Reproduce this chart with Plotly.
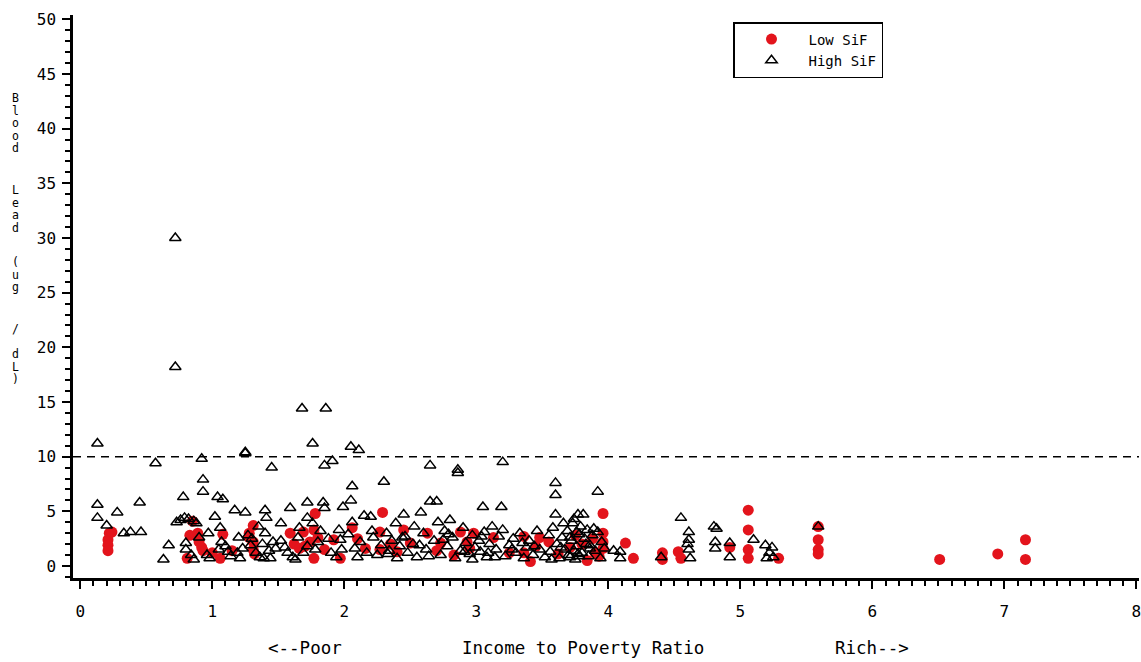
import plotly.graph_objects as go

# ---- Data ----
low_x = [0.22, 0.21, 0.21, 0.21, 0.24,
         0.81, 0.83, 0.85, 0.89, 0.92, 0.93, 0.90,
         1.06, 1.08, 1.15, 1.28, 1.31, 1.31, 1.31, 1.32, 1.28, 1.00,
         1.59, 1.62, 1.66, 1.69, 1.70, 1.74, 1.77, 1.78, 1.77, 1.80, 1.85, 1.92, 1.97,
         2.06, 2.10, 2.16, 2.27, 2.27, 2.29, 2.35, 2.45, 2.50, 2.40,
         2.63, 2.73, 2.70, 2.83, 2.88, 2.93, 2.98, 2.95,
         3.13, 3.25, 3.36, 3.36, 3.41, 3.48, 3.45,
         3.55, 3.62, 3.71, 3.75, 3.80, 3.84, 3.88, 3.90, 3.96, 3.96, 3.96, 3.96, 3.93,
         4.13, 4.19, 4.41, 4.41, 4.53, 4.55, 4.92, 5.06, 5.06, 5.06, 5.06, 5.29,
         5.59, 5.59, 5.59, 5.59,
         6.51, 6.95, 7.16, 7.16]
low_y = [3.0, 2.4, 1.9, 1.4, 3.1,
         0.7, 2.8, 4.1, 3.0, 1.7, 1.4, 2.2,
         0.7, 2.9, 1.4, 3.0, 3.7, 2.2, 1.5, 1.1, 2.6, 1.2,
         3.0, 2.0, 1.6, 3.1, 1.8, 2.2, 3.3, 4.8, 0.7, 2.6, 1.5, 2.4, 0.7,
         3.5, 2.5, 1.6, 3.1, 1.5, 4.9, 2.0, 3.3, 2.1, 1.3,
         3.0, 2.1, 1.4, 1.0, 3.1, 2.2, 3.0, 1.6,
         2.6, 1.2, 2.7, 1.2, 0.4, 2.6, 1.8,
         2.2, 1.1, 1.7, 2.8, 2.0, 0.5, 2.5, 1.2, 4.8, 3.0, 2.2, 1.6, 0.9,
         2.1, 0.7, 1.2, 0.6, 1.3, 0.7, 1.7, 5.1, 3.3, 1.5, 0.7, 0.7,
         3.6, 2.4, 1.5, 1.1,
         0.6, 1.1, 2.4, 0.6]

high_x = [0.13, 0.13, 0.13, 0.20, 0.28, 0.33, 0.38, 0.45, 0.46,
          0.57, 0.63, 0.67, 0.72, 0.72, 0.73, 0.76, 0.78, 0.79, 0.80, 0.80, 0.82, 0.84,
          0.86, 0.86, 0.88, 0.90, 0.92, 0.93, 0.93, 0.96, 0.98, 0.97,
          1.02, 1.04, 1.08, 1.06, 1.07, 1.05, 1.10, 1.12, 1.14, 1.17, 1.20, 1.19, 1.21,
          1.23, 1.25, 1.25, 1.25, 1.27, 1.29, 1.30, 1.33, 1.36, 1.40, 1.41, 1.40, 1.39,
          1.44, 1.45, 1.46, 1.48, 1.35, 1.38, 1.43,
          1.52, 1.52, 1.55, 1.57, 1.59, 1.61, 1.63, 1.65, 1.66, 1.68, 1.69, 1.72, 1.72,
          1.72, 1.76, 1.76, 1.78, 1.80, 1.82, 1.84, 1.85, 1.86, 1.85, 1.91, 1.88, 1.90,
          1.94, 1.97, 1.99, 1.98, 1.96,
          2.03, 2.05, 2.11, 2.05, 2.06, 2.06, 2.08, 2.10, 2.12, 2.15, 2.17, 2.20, 2.22,
          2.25, 2.28, 2.30, 2.32, 2.34, 2.36, 2.39, 2.40, 2.42, 2.45, 2.46, 2.48,
          2.52, 2.55, 2.58, 2.60, 2.62, 2.65, 2.65, 2.70, 2.68, 2.71, 2.73, 2.76, 2.78,
          2.80, 2.82, 2.84, 2.86, 2.86, 2.88, 2.90, 2.92, 2.95, 2.97, 2.99, 2.97,
          3.02, 3.03, 3.05, 3.06, 3.08, 3.10, 3.12, 3.15, 3.17, 3.19, 3.20, 3.20, 3.22,
          3.25, 3.28, 3.30, 3.33, 3.36, 3.38, 3.40, 3.43, 3.46, 3.48,
          3.52, 3.55, 3.56, 3.58, 3.60, 3.60, 3.60, 3.61, 3.63, 3.65, 3.67, 3.69, 3.70,
          3.72, 3.73, 3.74, 3.75, 3.76, 3.77, 3.78, 3.79, 3.80, 3.81, 3.82, 3.84, 3.85,
          3.86, 3.88, 3.90, 3.92, 3.92, 3.94, 3.95, 3.97, 3.74, 3.78, 3.66,
          2.33, 2.44, 2.57, 2.64, 2.75, 2.91, 3.04, 3.14, 3.27, 3.35, 3.44, 3.57,
          3.64, 3.71, 3.77, 3.83, 3.89, 3.71, 3.76, 3.86, 2.21, 2.53, 2.79, 3.09,
          4.04, 4.09, 4.09, 4.55, 4.61, 4.61, 4.61, 4.62, 4.60, 4.80, 4.82, 4.81, 4.81,
          4.92, 4.92, 5.10, 5.19, 5.24, 5.20, 5.25, 5.22, 5.59, 4.40]
high_y = [11.2, 5.6, 4.4, 3.7, 4.9, 3.0, 3.1, 5.8, 3.1,
          9.4, 0.6, 1.9, 30.0, 18.2, 4.0, 4.2, 6.3, 4.4, 2.1, 1.5, 4.3, 1.0,
          4.1, 0.6, 3.9, 2.6, 9.8, 7.9, 6.8, 1.0, 0.7, 3.0,
          4.5, 6.3, 6.1, 3.5, 2.2, 1.5, 1.8, 1.3, 0.9, 5.1, 2.6, 1.2, 0.7,
          1.6, 10.4, 10.3, 4.9, 2.8, 1.9, 2.5, 1.2, 0.8, 5.1, 4.4, 3.0, 0.7,
          0.7, 9.0, 2.2, 1.6, 3.6, 2.0, 1.4,
          3.9, 2.3, 1.7, 1.2, 5.3, 0.8, 0.6, 2.6, 3.5, 14.4, 1.2, 5.8, 4.4,
          1.8, 11.2, 3.9, 1.5, 2.2, 3.2, 5.8, 5.3, 14.4, 9.2, 9.6, 2.5, 1.2,
          0.8, 2.4, 5.4, 1.5, 3.3,
          2.9, 10.9, 10.6, 6.0, 7.3, 4.0, 1.6, 0.8, 2.2, 4.6, 1.2, 4.5, 2.6,
          1.0, 1.9, 7.7, 3.0, 1.4, 2.3, 3.9, 0.7, 1.8, 4.7, 2.7, 1.2,
          2.0, 0.8, 4.9, 3.0, 1.5, 9.2, 5.9, 5.9, 2.3, 4.0, 1.0, 3.2, 1.8,
          4.2, 2.6, 0.7, 8.8, 8.5, 1.4, 3.5, 2.1, 1.1, 2.8, 1.7, 0.6,
          2.3, 1.3, 5.4, 3.1, 0.8, 2.0, 3.6, 1.5, 2.7, 5.4, 9.5, 3.3, 0.9,
          1.9, 2.5, 1.2, 3.0, 0.7, 1.7, 2.3, 1.0, 3.2, 1.5,
          0.8, 2.8, 1.3, 3.5, 7.6, 6.5, 4.7, 2.0, 0.7, 2.6, 1.5, 3.2, 1.0,
          2.3, 3.9, 4.3, 0.6, 1.8, 4.7, 2.9, 3.6, 1.2, 4.7, 2.5, 3.3, 0.9,
          1.9, 2.8, 1.4, 6.8, 3.1, 0.7, 2.2, 1.6, 1.4, 0.9, 3.9,
          1.1, 2.6, 1.9, 0.9, 2.4, 1.3, 2.7, 0.8, 1.5, 2.1, 1.8, 0.6,
          1.7, 2.6, 1.1, 2.0, 3.4, 0.8, 3.1, 1.6, 3.2, 3.6, 2.9, 1.2,
          1.4, 1.3, 0.7, 4.4, 3.1, 2.4, 1.5, 0.7, 2.0, 3.6, 3.4, 2.2, 1.6,
          2.1, 0.8, 2.4, 1.9, 1.7, 0.7, 0.8, 1.2, 3.6, 0.8]

series_names = ["Low SiF", "High SiF"]
reference_level = 10
x_tick_values = [0, 1, 2, 3, 4, 5, 6, 7, 8]
y_tick_values = [0, 5, 10, 15, 20, 25, 30, 35, 40, 45, 50]
y_title = "Blood Lead (ug / dL)"
x_title_parts = ["<--Poor", "Income to Poverty Ratio", "Rich-->"]

MONO = "DejaVu Sans Mono, Liberation Mono, monospace"
RED = "#e3141c"

# layout geometry (pixels)
L, R, T, B = 73, 2, 15, 84
W, H = 1141, 662
PW, PH = W - L - R, H - T - B


def px_x(px):
    return (px - L) / PW


def px_y(py):
    return (H - B - py) / PH


fig = go.Figure()
fig.add_trace(go.Scatter(
    x=low_x, y=low_y, mode="markers", name=series_names[0],
    marker=dict(symbol="circle", size=11, color=RED, line=dict(width=0)),
))
fig.add_trace(go.Scatter(
    x=high_x, y=high_y, mode="markers", name=series_names[1],
    marker=dict(symbol="triangle-up-open", size=10, color="black",
                line=dict(width=1.5, color="black")),
))

fig.add_hline(y=reference_level, line=dict(color="black", width=1.5, dash="8px,6px"))

axis_common = dict(
    showline=True, linecolor="black", linewidth=2.5, mirror=False, automargin=False,
    showgrid=False, zeroline=False, ticks="outside", ticklen=8, tickwidth=2,
    tickcolor="black", tickfont=dict(family=MONO, size=16, color="black"),
    ticklabeloverflow="allow",
)
fig.update_xaxes(
    range=[-0.055, 8.02], tickvals=x_tick_values, ticklabelstandoff=9,
    minor=dict(dtick=0.1, tick0=0, ticks="outside", ticklen=5, tickwidth=1.5,
               tickcolor="black", showgrid=False),
    **axis_common,
)
fig.update_yaxes(
    range=[-1.1, 50.4], tickvals=y_tick_values, ticklabelstandoff=3,
    minor=dict(dtick=1, tick0=0, ticks="outside", ticklen=5, tickwidth=1.5,
               tickcolor="black", showgrid=False),
    **axis_common,
)

# Vertical stacked y-axis title: one upright character per line
char_rows = [98, 110.5, 123, 135.5, 148, None, 190, 202.5, 215, 227.5, None,
             262, 274.5, 287, None, 329, None, 354, 366.5, 379]
for ch, ypx in zip(y_title, char_rows):
    if ch == " " or ypx is None:
        continue
    fig.add_annotation(
        text=ch, xref="paper", yref="paper", x=px_x(15), y=px_y(ypx),
        xanchor="center", yanchor="middle", showarrow=False,
        font=dict(family=MONO, size=11.5, color="black"),
    )

# x-axis title pieces
for txt, xpx in zip(x_title_parts, [305, 583, 872]):
    fig.add_annotation(
        text=txt, xref="paper", yref="paper", x=px_x(xpx), y=px_y(648),
        xanchor="center", yanchor="middle", showarrow=False,
        font=dict(family=MONO, size=17.5, color="black"),
    )

fig.update_layout(
    width=W, height=H,
    margin=dict(l=L, r=R, t=T, b=B, autoexpand=False),
    paper_bgcolor="white", plot_bgcolor="white",
    showlegend=True,
    legend=dict(
        x=px_x(733), y=px_y(22), xanchor="left", yanchor="top",
        bordercolor="black", borderwidth=1.5, bgcolor="white",
        font=dict(family=MONO, size=14, color="black"),
        itemwidth=64, tracegroupgap=0,
    ),
)

fig.write_html("out.html", config={"displayModeBar": False},
               post_script="document.body.style.margin='0px';document.body.style.overflow='hidden';")
